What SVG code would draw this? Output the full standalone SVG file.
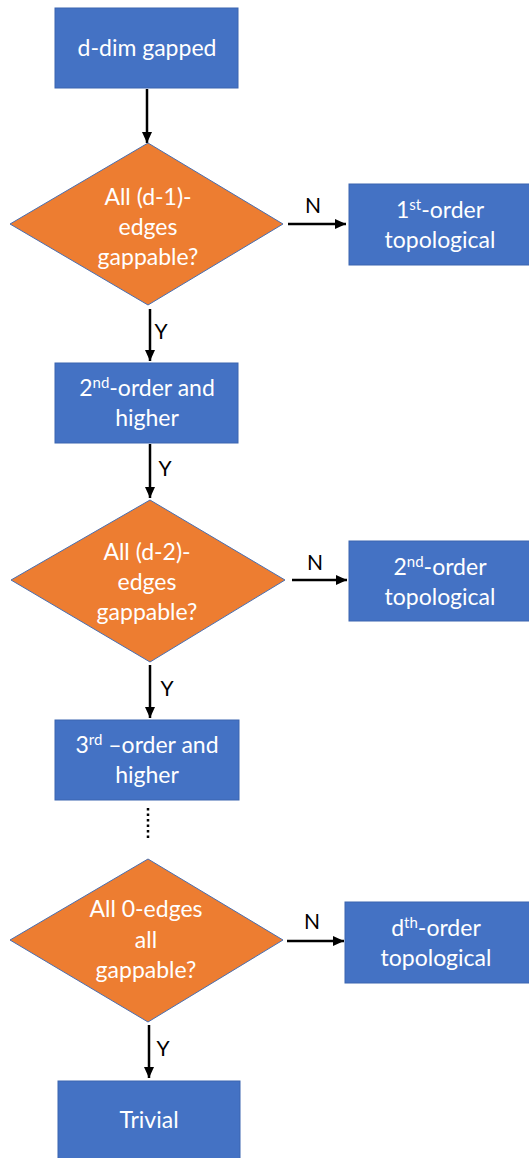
<svg xmlns="http://www.w3.org/2000/svg" width="529" height="1158" viewBox="0 0 529 1158">
<style>
.box{fill:#4472C4;stroke:#3A64B0;stroke-width:1}
.dia{fill:#ED7D31;stroke:#4A6FB0;stroke-width:1}
.t{font-family:Lato,"Open Sans",sans-serif;font-size:23px;fill:#FFFFFF;text-anchor:middle}
.s{font-size:15px}
.lbl{font-family:Lato,"Open Sans",sans-serif;font-size:21px;fill:#000000;text-anchor:middle}
.c{stroke:#000000;stroke-width:2.5;fill:none}
.d{stroke:#000000;stroke-width:2.5;fill:none;stroke-dasharray:2.5 3}
</style>
<defs>
<marker id="ah" markerUnits="userSpaceOnUse" markerWidth="11" markerHeight="10" refX="11" refY="5" orient="auto" viewBox="0 0 11 10">
<path d="M0,0 L11,5 L0,10 z" fill="#000000"/>
</marker>
</defs>
<g id="connectors">
<line class="c" x1="147" y1="89" x2="147" y2="143" marker-end="url(#ah)"/>
<line class="c" x1="288" y1="224" x2="346" y2="224" marker-end="url(#ah)"/>
<line class="c" x1="150" y1="309" x2="150" y2="361" marker-end="url(#ah)"/>
<line class="c" x1="150" y1="444" x2="150" y2="498" marker-end="url(#ah)"/>
<line class="c" x1="292" y1="580" x2="347" y2="580" marker-end="url(#ah)"/>
<line class="c" x1="150" y1="665" x2="150" y2="718" marker-end="url(#ah)"/>
<line class="d" x1="148" y1="808" x2="148" y2="841"/>
<line class="c" x1="287" y1="941" x2="344" y2="941" marker-end="url(#ah)"/>
<line class="c" x1="149" y1="1025" x2="149" y2="1078" marker-end="url(#ah)"/>
<text class="lbl" x="313" y="213">N</text>
<text class="lbl" x="161" y="339">Y</text>
<text class="lbl" x="165" y="476">Y</text>
<text class="lbl" x="315" y="570">N</text>
<text class="lbl" x="167" y="696">Y</text>
<text class="lbl" x="312" y="929">N</text>
<text class="lbl" x="163" y="1056">Y</text>
</g>
<g id="start">
<rect class="box" x="55" y="8" width="183" height="80"/>
<text class="t" x="147" y="56">d-dim gapped</text>
</g>
<g id="q1">
<polygon class="dia" points="148,143 283,224 148,305 10,224"/>
<text class="t" x="148" y="205">All (d-1)-</text>
<text class="t" x="148" y="235">edges</text>
<text class="t" x="148" y="265">gappable?</text>
</g>
<g id="first">
<rect class="box" x="349" y="184" width="181" height="81"/>
<text class="t" x="440" y="218">1<tspan class="s" dy="-8">st</tspan><tspan dy="8">-order</tspan></text>
<text class="t" x="440" y="248">topological</text>
</g>
<g id="second-higher">
<rect class="box" x="55" y="363" width="183" height="80"/>
<text class="t" x="147" y="396">2<tspan class="s" dy="-8">nd</tspan><tspan dy="8">-order and</tspan></text>
<text class="t" x="147" y="426">higher</text>
</g>
<g id="q2">
<polygon class="dia" points="150,500 285,580 150,662 11,580"/>
<text class="t" x="147" y="560">All (d-2)-</text>
<text class="t" x="147" y="590">edges</text>
<text class="t" x="147" y="620">gappable?</text>
</g>
<g id="second">
<rect class="box" x="349" y="541" width="181" height="80"/>
<text class="t" x="440" y="575">2<tspan class="s" dy="-8">nd</tspan><tspan dy="8">-order</tspan></text>
<text class="t" x="440" y="605">topological</text>
</g>
<g id="third-higher">
<rect class="box" x="55" y="720" width="184" height="80"/>
<text class="t" x="147" y="753">3<tspan class="s" dy="-8">rd</tspan><tspan dy="8"> –order and</tspan></text>
<text class="t" x="147" y="783">higher</text>
</g>
<g id="q3">
<polygon class="dia" points="148,859 283,940 148,1022 10,940"/>
<text class="t" x="146" y="917">All 0-edges</text>
<text class="t" x="146" y="948">all</text>
<text class="t" x="146" y="978">gappable?</text>
</g>
<g id="dth">
<rect class="box" x="345" y="902" width="185" height="81"/>
<text class="t" x="436" y="936">d<tspan class="s" dy="-8">th</tspan><tspan dy="8">-order</tspan></text>
<text class="t" x="436" y="966">topological</text>
</g>
<g id="trivial">
<rect class="box" x="58" y="1081" width="182" height="80"/>
<text class="t" x="149" y="1128">Trivial</text>
</g>
</svg>
